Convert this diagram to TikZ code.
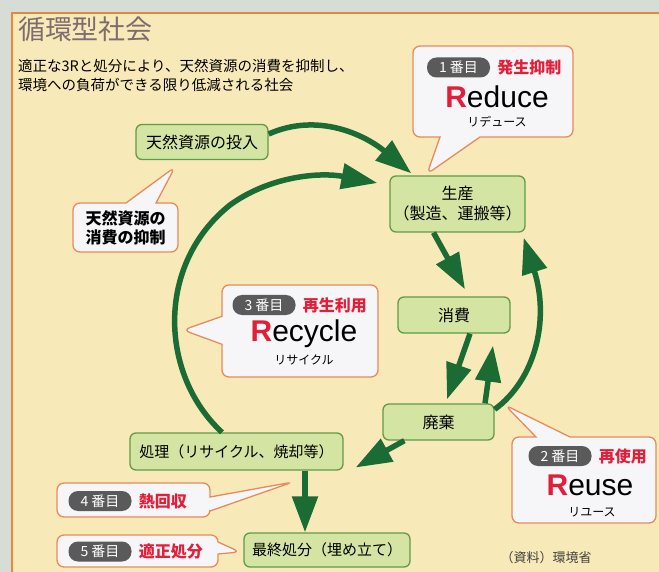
\documentclass[tikz,border=0pt]{standalone}
\usepackage{fontspec}                 % polices système
\setmainfont{Noto Sans CJK JP}        % texte japonais
\newfontfamily\latinfont{Liberation Sans}
\usetikzlibrary{arrows.meta,          % pointes de flèches
           shapes.callouts,           % bulles
           positioning}
\definecolor{fond}{RGB}{213,221,214}
\definecolor{panneau}{RGB}{248,234,184}
\definecolor{cadre}{RGB}{232,136,58}
\definecolor{vertclair}{RGB}{211,228,163}
\definecolor{vertbord}{RGB}{98,155,70}
\definecolor{vertfonce}{RGB}{27,107,52}
\definecolor{bullefond}{RGB}{246,246,248}
\definecolor{bullebord}{RGB}{233,138,92}
\definecolor{gris}{RGB}{90,90,90}
\definecolor{rouge}{RGB}{226,30,56}
\definecolor{titrec}{RGB}{125,109,109}
\tikzset{
  etape/.style={draw=vertbord,fill=vertclair,line width=1.3pt,rounded corners=6pt,inner sep=0pt,align=center,font=\fontsize{16}{16}\selectfont},
  bulle/.style={rectangle callout,draw=bullebord,fill=bullefond,line width=1.3pt,rounded corners=7pt,inner sep=0pt,align=center},
  rang/.style={fill=gris,text=white,rounded corners=9.5pt,minimum width=63pt,minimum height=20pt,inner sep=0pt,font=\fontsize{14}{14}\selectfont},
  lib/.style={text=rouge,inner sep=0pt,font=\bfseries\fontsize{16}{16}\selectfont},
  mot/.style={inner sep=0pt,font=\latinfont\fontsize{30}{30}\selectfont},
  kana/.style={inner sep=0pt,font=\fontsize{12}{12}\selectfont},
  fleche/.style={draw=vertfonce,line width=5.5pt,-{Triangle[length=36pt,width=25pt]}},
}
\begin{document}
\begin{tikzpicture}[x=1pt,y=-1pt]
\clip(0,0)rectangle(659,572);
\fill[fond](0,0)rectangle(659,572);
\draw[cadre,fill=panneau,line width=2.5pt](12,13)rectangle(700,600);
\node[text=titrec,inner sep=0pt,font=\fontsize{27}{27}\selectfont](titre)at(85.5,29){循環型社会};
\node[anchor=north west,align=left,inner sep=0pt,font=\fontsize{14.5}{19.5}\selectfont](sous)at(18,59){適正な3Rと処分により、天然資源の消費を抑制し、\\環境への負荷ができる限り低減される社会};
\node[etape,minimum width=132pt,minimum height=35pt](intrant)at(202,142){天然資源の投入};
\node[etape,minimum width=135pt,minimum height=56pt,font=\fontsize{16}{20}\selectfont](prod)at(457.5,204){生産\\（製造、運搬等）};
\node[etape,minimum width=112pt,minimum height=36pt](conso)at(454,315){消費};
\node[etape,minimum width=111pt,minimum height=36pt](rejet)at(438.5,422){廃棄};
\node[etape,minimum width=213pt,minimum height=37pt,font=\fontsize{15}{15}\selectfont](traite)at(236.5,451.5){処理（リサイクル、焼却等）};
\node[etape,minimum width=166pt,minimum height=34pt,font=\fontsize{15}{15}\selectfont](final)at(327,550){最終処分（埋め立て）};
\draw[fleche]([yshift=8pt]intrant.east)..controls(318,112)and(365,135)..([xshift=22pt,yshift=2pt]prod.north west);
\draw[fleche]([xshift=-14.5pt]traite.north)..controls(160,375)and(155,265)..(230,205)..controls(270,176)and(320,172)..([xshift=-12pt,yshift=21pt]prod.west);
\draw[fleche]([xshift=-24pt]prod.south)--([xshift=11pt,yshift=7pt]conso.north);
\draw[fleche]([xshift=16pt]conso.south)--([xshift=8.5pt,yshift=4pt]rejet.north);
\draw[fleche]([xshift=46.5pt]rejet.north)--([xshift=39pt,yshift=-12pt]conso.south);
\draw[fleche]([yshift=-6pt]rejet.north east)..controls(535,380)and(550,320)..([xshift=-2pt,yshift=-5pt]prod.south east);
\draw[fleche]([xshift=22pt]rejet.south west)--([xshift=12pt,yshift=-16pt]traite.east);
\draw[fleche]([xshift=68.5pt]traite.south)--([xshift=-22pt]final.north);
\node[bulle,minimum width=160pt,minimum height=91pt,callout absolute pointer={(427,174)},callout pointer width=40pt](reduce)at(493,91.5){};
\node[rang](r1)at(458.5,67.5){1 番目};
\node[lib,right=7pt of r1](l1){発生抑制};
\node[mot](m1)at(497,97){\textbf{\textcolor{rouge}{R}}educe};
\node[kana](k1)at(497,122){リデュース};
\node[bulle,minimum width=105pt,minimum height=49pt,callout absolute pointer={(175,167)},callout pointer width=30pt,font=\bfseries\fontsize{16}{19}\selectfont](frein)at(125.5,227.5){天然資源の\\消費の抑制};
\node[bulle,minimum width=156pt,minimum height=92pt,callout absolute pointer={(183,330)},callout pointer width=28pt](recycle)at(300,331){};
\node[rang](r3)at(264,305){3 番目};
\node[lib,right=7pt of r3](l3){再生利用};
\node[mot](m3)at(304,334){\textbf{\textcolor{rouge}{R}}ecycle};
\node[kana](k3)at(304,360){リサイクル};
\node[bulle,minimum width=144pt,minimum height=86pt,callout absolute pointer={(505,405)},callout pointer width=34pt](reuse)at(584,480){};
\node[rang](r2)at(560,456){2 番目};
\node[lib,right=7pt of r2](l2){再使用};
\node[mot](m2)at(590,485){\textbf{\textcolor{rouge}{R}}euse};
\node[kana](k2)at(592,512){リユース};
\node[bulle,minimum width=153pt,minimum height=34pt,callout absolute pointer={(293,482)},callout pointer width=14pt](chaleur)at(133.5,500){};
\node[rang](r4)at(100,501){4 番目};
\node[lib,right=7pt of r4](l4){熱回収};
\node[bulle,minimum width=161pt,minimum height=32pt,callout absolute pointer={(240,552)},callout pointer width=12pt](enfouis)at(137.5,551){};
\node[rang](r5)at(100,551.5){5 番目};
\node[lib,right=7pt of r5](l5){適正処分};
\node[inner sep=0pt,text=black!75,font=\fontsize{13}{13}\selectfont](source)at(546,558){（資料）環境省};
\end{tikzpicture}
\end{document}
